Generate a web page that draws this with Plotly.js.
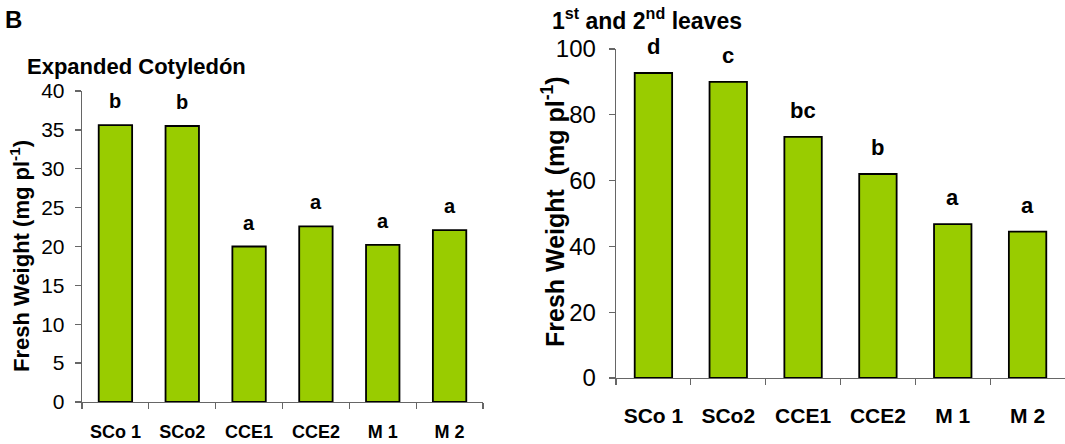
<!DOCTYPE html>
<html>
<head>
<meta charset="utf-8">
<script src="https://cdn.plot.ly/plotly-3.0.1.min.js"></script>
<style>html,body{margin:0;padding:0;background:#fff;}#chart{width:1065px;height:444px;}</style>
</head>
<body>
<div id="chart"></div>
<script>
var categories = ["SCo 1", "SCo2", "CCE1", "CCE2", "M 1", "M 2"];
var cotyledonValues = [35.6, 35.5, 20.0, 22.6, 20.2, 22.1];
var cotyledonLetters = ["b", "b", "a", "a", "a", "a"];
var leavesValues = [92.7, 90.0, 73.3, 62.0, 46.8, 44.5];
var leavesLetters = ["d", "c", "bc", "b", "a", "a"];
var leftTicks = [0, 5, 10, 15, 20, 25, 30, 35, 40];
var rightTicks = [0, 20, 40, 60, 80, 100];

var W = 1065, H = 444;
function px(x){ return x / W; }
function py(y){ return 1 - y / H; }
var FONT = "Liberation Sans, Arial, sans-serif";
var green = "#99cc00";

var traces = [
  {type: "bar", x: categories, y: cotyledonValues, xaxis: "x", yaxis: "y",
   marker: {color: green, line: {color: "#000", width: 1.8}}, hoverinfo: "none"},
  {type: "bar", x: categories, y: leavesValues, xaxis: "x2", yaxis: "y2",
   marker: {color: green, line: {color: "#000", width: 1.8}}, hoverinfo: "none"}
];

var annotations = [];
categories.forEach(function(c, i){
  annotations.push({x: c, y: cotyledonValues[i], xref: "x", yref: "y", text: "<b>" + cotyledonLetters[i] + "</b>",
    showarrow: false, yanchor: "bottom", yshift: 11, font: {family: FONT, size: 20, color: "#000"}});
  annotations.push({x: c, y: leavesValues[i], xref: "x2", yref: "y2", text: "<b>" + leavesLetters[i] + "</b>",
    showarrow: false, yanchor: "bottom", yshift: 12, font: {family: FONT, size: 22, color: "#000"}});
});

annotations.push({xref: "paper", yref: "paper", x: px(3), y: py(19), xanchor: "left", yanchor: "middle",
  text: "<b>B</b>", showarrow: false, font: {family: FONT, size: 24, color: "#000"}});
annotations.push({xref: "paper", yref: "paper", x: px(25), y: py(66), xanchor: "left", yanchor: "middle",
  text: "<b>Expanded Cotyledón</b>", showarrow: false, font: {family: FONT, size: 22, color: "#000"}});
annotations.push({xref: "paper", yref: "paper", x: px(550), y: py(19), xanchor: "left", yanchor: "middle",
  text: "<b>1<sup>st</sup> and 2<sup>nd</sup> leaves</b>", showarrow: false, font: {family: FONT, size: 23, color: "#000"}});
annotations.push({xref: "paper", yref: "paper", x: px(20), y: py(256), xanchor: "center", yanchor: "middle", textangle: -90,
  text: "<b>Fresh Weight (mg pl<sup>-1</sup>)</b>", showarrow: false, font: {family: FONT, size: 22, color: "#000"}});
annotations.push({xref: "paper", yref: "paper", x: px(553), y: py(212), xanchor: "center", yanchor: "middle", textangle: -90,
  text: "<b>Fresh Weight  (mg pl<sup>-1</sup>)</b>", showarrow: false, font: {family: FONT, size: 25, color: "#000"}});

var axisCommon = {showgrid: false, zeroline: false, showline: true, linecolor: "#666666", linewidth: 1.3,
  ticks: "outside", tickcolor: "#666666", ticklen: 6, tickwidth: 1.3, automargin: false, fixedrange: true};

var layout = {
  width: W, height: H,
  margin: {l: 0, r: 0, t: 0, b: 0},
  paper_bgcolor: "#fff", plot_bgcolor: "#fff",
  showlegend: false, bargap: 0.5,
  font: {family: FONT, color: "#000"},
  xaxis: Object.assign({}, axisCommon, {domain: [px(82), px(483)], anchor: "y", tickson: "boundaries",
    tickfont: {family: FONT, size: 18, color: "#000", weight: "bold"}, ticklabelstandoff: 13}),
  yaxis: Object.assign({}, axisCommon, {domain: [py(402), py(91)], anchor: "x", range: [0, 40],
    tickvals: leftTicks, ticktext: leftTicks.map(String), tickfont: {family: FONT, size: 21, color: "#000"}, ticklabelstandoff: 6}),
  xaxis2: Object.assign({}, axisCommon, {domain: [px(616), 1], anchor: "y2", tickson: "boundaries",
    tickfont: {family: FONT, size: 21, color: "#000", weight: "bold"}, ticklabelstandoff: 18}),
  yaxis2: Object.assign({}, axisCommon, {domain: [py(378), py(49)], anchor: "x2", range: [0, 100],
    tickvals: rightTicks, ticktext: rightTicks.map(String), tickfont: {family: FONT, size: 24, color: "#000"}, ticklabelstandoff: 8}),
  annotations: annotations
};

Plotly.newPlot("chart", traces, layout, {displayModeBar: false, staticPlot: true});
</script>
</body>
</html>
